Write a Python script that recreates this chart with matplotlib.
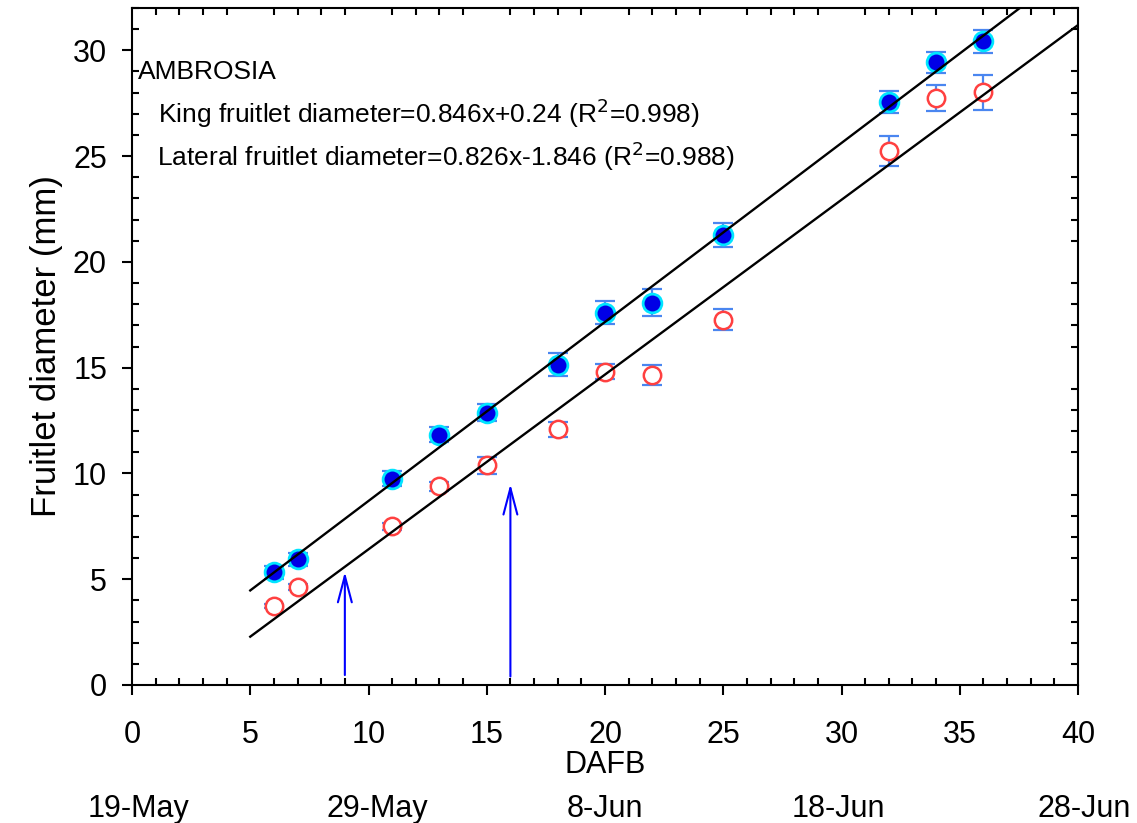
import matplotlib
matplotlib.use("Agg")
import matplotlib.pyplot as plt
import numpy as np
from matplotlib.ticker import MultipleLocator

plt.rcParams['font.family'] = ['Liberation Sans', 'DejaVu Sans']

dafb = [6, 7, 11, 13, 15, 18, 20, 22, 25, 32, 34, 36]
king = [5.33, 5.94, 9.76, 11.84, 12.88, 15.14, 17.59, 18.07, 21.27, 27.55, 29.43, 30.42]
king_err = [0.3, 0.3, 0.35, 0.35, 0.4, 0.55, 0.55, 0.65, 0.55, 0.52, 0.5, 0.55]
lateral = [3.73, 4.62, 7.5, 9.39, 10.38, 12.08, 14.81, 14.67, 17.26, 25.24, 27.74, 28.02]
lateral_err = [0.1, 0.15, 0.15, 0.2, 0.4, 0.35, 0.35, 0.47, 0.5, 0.7, 0.6, 0.82]

king_fit = (0.846, 0.24)
lateral_fit = (0.826, -1.846)
king_fit_x = [5, 37.5]
lateral_fit_x = [5, 40]

arrow_x = [9, 16]
arrow_y0 = [0.47, 0.4]
arrow_y1 = [5.35, 9.5]

date_labels = ['19-May', '29-May', '8-Jun', '18-Jun', '28-Jun']
date_px = [138, 377, 605, 838, 1084]

W, H = 1137, 823
fig = plt.figure(figsize=(W / 100, H / 100), dpi=100)
ax = fig.add_axes([132 / W, 1 - 685 / H, (1078 - 132) / W, (685 - 8) / H])

ecol = '#4a86f0'
ax.errorbar(dafb, lateral, yerr=lateral_err, fmt='none', ecolor=ecol,
            elinewidth=1.6, capsize=7.5, capthick=1.6, zorder=2)
ax.errorbar(dafb, king, yerr=king_err, fmt='none', ecolor=ecol,
            elinewidth=1.6, capsize=7.5, capthick=1.6, zorder=2)
ax.plot(dafb, lateral, 'o', ms=12.5, mfc='white', mec='#ff4040', mew=1.8, zorder=3, ls='none')
ax.plot(dafb, king, 'o', ms=13.5, mfc='#0000e6', mec='#00e5ff', mew=2, zorder=4, ls='none')

for xs, (m, b) in ((king_fit_x, king_fit), (lateral_fit_x, lateral_fit)):
    xs = np.array(xs)
    ax.plot(xs, m * xs + b, color='black', lw=1.7, zorder=5)

for x, y0, y1 in zip(arrow_x, arrow_y0, arrow_y1):
    ax.annotate('', xy=(x, y1), xytext=(x, y0),
                arrowprops=dict(arrowstyle='->,head_length=1.9,head_width=0.5',
                                color='#0000ff', lw=1.5, shrinkA=0, shrinkB=0))

ax.text(0.25, 28.64, 'AMBROSIA', fontsize=19, va='baseline', ha='left')
ax.text(1.1, 26.56, 'King fruitlet diameter=0.846x+0.24 (R$^2$=0.998)', fontsize=19, va='baseline')
ax.text(1.06, 24.53, 'Lateral fruitlet diameter=0.826x-1.846 (R$^2$=0.988)', fontsize=19, va='baseline')

ax.set_xlim(0, 40)
ax.set_ylim(0, 32)
ax.xaxis.set_major_locator(MultipleLocator(5))
ax.xaxis.set_minor_locator(MultipleLocator(1))
ax.yaxis.set_major_locator(MultipleLocator(5))
ax.yaxis.set_minor_locator(MultipleLocator(1))
ax.tick_params(which='major', direction='out', length=7, width=1.5, labelsize=22,
               top=True, right=True)
ax.tick_params(which='major', axis='x', pad=18, top=False)
ax.tick_params(which='major', axis='y', pad=11, right=False)
ax.tick_params(which='minor', direction='in', length=5, width=1.5, top=True, right=True)
for s in ax.spines.values():
    s.set_linewidth(1.5)

ax.set_xlabel('DAFB', fontsize=22)
ax.xaxis.label.set_va('baseline')
ax.xaxis.set_label_coords(0.5, (685 - 773) / 677)
ax.set_ylabel('Fruitlet diameter (mm)', fontsize=25, labelpad=7)

for lab, px in zip(date_labels, date_px):
    fig.text(px / W, 1 - 817 / H, lab, fontsize=22, ha='center', va='baseline')

fig.savefig('out.png', dpi=100)
